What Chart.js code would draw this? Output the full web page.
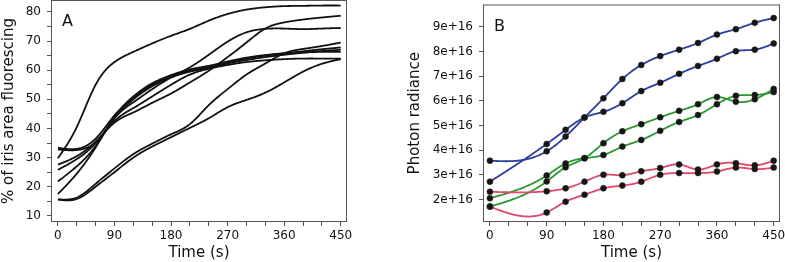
<!DOCTYPE html>
<html>
<head>
<meta charset="utf-8">
<script src="https://cdn.jsdelivr.net/npm/chart.js@4.4.1/dist/chart.umd.min.js"></script>
<style>
  html, body { margin: 0; padding: 0; background: #fff; }
  #chartA { position: absolute; left: 0; top: 0; }
  #chartB { position: absolute; left: 400px; top: 0; }
</style>
</head>
<body>
<canvas id="chartA" width="352" height="262"></canvas>
<canvas id="chartB" width="385" height="262"></canvas>
<script>
// ---- Panel A: % of iris area fluorescing, sampled every 30 s
const timesA = [0, 30, 60, 90, 120, 150, 180, 210, 240, 270, 300, 330, 360, 390, 420, 450];
const irisTop  = [29.8, 40.5, 55, 62.8, 66.3, 69.2, 71.8, 74.2, 77, 79.3, 80.8, 81.6, 82, 82.1, 82.2, 82.2];
const irisC2   = [27.6, 30.5, 35.5, 42, 45.5, 48.8, 52, 55.8, 59.8, 64.5, 69.5, 74.3, 76.4, 77.4, 78.1, 78.7];
const irisC3   = [17.5, 24.5, 33.5, 43.5, 49, 53.5, 57.5, 61, 65.3, 69.8, 73, 74.2, 74.3, 74.1, 74.3, 74.5];
const irisM1   = [33.4, 33, 36.5, 44.5, 50.5, 55, 57.8, 59.8, 61, 62.5, 64, 65, 65.8, 66.5, 67.2, 67.8];
const irisM2   = [25.8, 29.5, 35, 43.5, 50, 54.5, 57.5, 59.5, 60.8, 62.3, 63.5, 64.5, 65.3, 66, 66.6, 67];
const irisM3   = [21.8, 27, 34, 44, 51, 55.5, 58.3, 60.3, 61.5, 63, 64.3, 65.2, 65.8, 66.1, 66.3, 66.3];
const irisM4   = [32.8, 32.6, 35.3, 42.5, 47, 51, 55, 58.5, 60.5, 61.8, 62.8, 63.4, 63.8, 64, 64, 64];
const irisLowA = [15.7, 16.3, 21, 26.3, 31.2, 34.8, 38, 41.5, 48, 53.5, 58.5, 62.3, 65.8, 67.3, 68.3, 69.5];
const irisLowB = [15.6, 15.8, 20, 25, 30, 33.8, 37, 40.2, 43.5, 47.3, 49.8, 52.3, 55.8, 59.5, 62.2, 63.8];
const seriesA = [irisTop, irisC2, irisC3, irisM1, irisM2, irisM3, irisM4, irisLowA, irisLowB];
const colorsA = seriesA.map(() => '#111');

// ---- Panel B: photon radiance, measured points
const timesB = [0, 90, 120, 150, 180, 210, 240, 270, 300, 330, 360, 390, 420, 450];
const blue1  = [2.72e16, 4.25e16, 4.82e16, 5.32e16, 5.55e16, 5.9e16, 6.39e16, 6.73e16, 7.09e16, 7.41e16, 7.7e16, 8.01e16, 8.07e16, 8.32e16];
const blue2  = [3.57e16, 3.95e16, 4.55e16, 5.32e16, 6.1e16, 6.88e16, 7.45e16, 7.81e16, 8.07e16, 8.34e16, 8.68e16, 8.9e16, 9.16e16, 9.35e16];
const green1 = [2.05e16, 2.97e16, 3.46e16, 3.67e16, 3.8e16, 4.14e16, 4.41e16, 4.78e16, 5.14e16, 5.42e16, 5.86e16, 6.2e16, 6.23e16, 6.35e16];
const green2 = [1.71e16, 2.73e16, 3.3e16, 3.67e16, 4.28e16, 4.76e16, 5.05e16, 5.33e16, 5.59e16, 5.86e16, 6.15e16, 5.96e16, 6.06e16, 6.48e16];
const red1   = [2.31e16, 2.33e16, 2.45e16, 2.72e16, 3.0e16, 2.98e16, 3.14e16, 3.27e16, 3.42e16, 3.21e16, 3.42e16, 3.47e16, 3.38e16, 3.57e16];
const red2   = [1.71e16, 1.47e16, 1.91e16, 2.19e16, 2.45e16, 2.56e16, 2.72e16, 3.0e16, 3.07e16, 3.07e16, 3.13e16, 3.29e16, 3.23e16, 3.29e16];
const seriesB = [blue1, blue2, green1, green2, red1, red2];
const colorsB = ['#2a3f9e', '#2a3f9e', '#2b982f', '#2b982f', '#e2486a', '#e2486a'];

// ---- ticks
const timeTicks  = [0, 30, 60, 90, 120, 150, 180, 210, 240, 270, 300, 330, 360, 390, 420, 450];
const timeLabels = [0, 90, 180, 270, 360, 450];
const ticksAY    = [10, 15, 20, 25, 30, 35, 40, 45, 50, 55, 60, 65, 70, 75, 80];
const labelsAY   = [10, 20, 30, 40, 50, 60, 70, 80];
const ticksBY    = [2e16, 3e16, 4e16, 5e16, 6e16, 7e16, 8e16, 9e16];

const FONT = 'DejaVu Sans';
const AXIS = '#555';

// natural cubic spline through (xs, ys)
function naturalSpline(xs, ys) {
  const n = xs.length;
  const h = [], l = [1], mu = [0], z = [0];
  const b = [], c = new Array(n).fill(0), d = [];
  for (let i = 0; i < n - 1; i++) h[i] = xs[i + 1] - xs[i];
  for (let i = 1; i < n - 1; i++) {
    const alpha = 3 / h[i] * (ys[i + 1] - ys[i]) - 3 / h[i - 1] * (ys[i] - ys[i - 1]);
    l[i] = 2 * (xs[i + 1] - xs[i - 1]) - h[i - 1] * mu[i - 1];
    mu[i] = h[i] / l[i];
    z[i] = (alpha - h[i - 1] * z[i - 1]) / l[i];
  }
  for (let j = n - 2; j >= 1; j--) c[j] = z[j] - mu[j] * c[j + 1];
  for (let j = 0; j < n - 1; j++) {
    b[j] = (ys[j + 1] - ys[j]) / h[j] - h[j] * (c[j + 1] + 2 * c[j]) / 3;
    d[j] = (c[j + 1] - c[j]) / (3 * h[j]);
  }
  return x => {
    let i = 0;
    while (i < n - 2 && x > xs[i + 1]) i++;
    const dx = x - xs[i];
    return ys[i] + b[i] * dx + c[i] * dx * dx + d[i] * dx * dx * dx;
  };
}

// smooth curves through each series, placed with the chart's own scales
function splinePlugin(times, series, colors, width) {
  return {
    id: 'splines',
    beforeDatasetsDraw(chart) {
      const { ctx, chartArea: a, scales: { x, y } } = chart;
      ctx.save();
      ctx.beginPath();
      ctx.rect(a.left, a.top, a.right - a.left, a.bottom - a.top);
      ctx.clip();
      ctx.lineJoin = 'round';
      series.forEach((vals, k) => {
        const f = naturalSpline(times, vals);
        ctx.beginPath();
        for (let t = times[0]; t <= times[times.length - 1]; t += 1) {
          const px = x.getPixelForValue(t), py = y.getPixelForValue(f(t));
          if (t === times[0]) ctx.moveTo(px, py); else ctx.lineTo(px, py);
        }
        ctx.strokeStyle = colors[k];
        ctx.lineWidth = width;
        ctx.stroke();
      });
      ctx.restore();
    }
  };
}

// box around the plot area + panel letter
function framePlugin(letter) {
  return {
    id: 'frame',
    afterDraw(chart) {
      const { ctx, chartArea: a } = chart;
      ctx.save();
      ctx.strokeStyle = AXIS;
      ctx.lineWidth = 1;
      ctx.strokeRect(a.left + 0.5, a.top + 0.5, a.right - a.left - 1, a.bottom - a.top - 1);
      ctx.fillStyle = '#111';
      ctx.font = '16px "' + FONT + '"';
      ctx.textBaseline = 'middle';
      ctx.fillText(letter, a.left + 11, a.top + 22);
      ctx.restore();
    }
  };
}

// keep the plot box where the figure has it: no extra room for edge labels
function noEdgePadding(s) {
  s.paddingTop = 0; s.paddingBottom = 0; s.paddingLeft = 0; s.paddingRight = 0;
}

function timeAxis() {
  return {
    type: 'linear',
    min: -11, max: 460,
    afterFit: s => { s.height = 40; noEdgePadding(s); },
    afterBuildTicks: s => { s.ticks = timeTicks.map(v => ({ value: v })); },
    border: { display: false },
    grid: { drawOnChartArea: false, tickLength: 4, color: AXIS },
    ticks: {
      autoSkip: false, maxRotation: 0, padding: 3,
      color: '#111', font: { family: FONT, size: 12 },
      callback: v => (timeLabels.includes(v) ? String(v) : '')
    },
    title: { display: true, text: 'Time (s)', color: '#111', font: { family: FONT, size: 15 }, padding: { top: 0, bottom: 0 } }
  };
}

new Chart(document.getElementById('chartA'), {
  type: 'scatter',
  data: {
    datasets: seriesA.map(vals => ({
      data: timesA.map((t, i) => ({ x: t, y: vals[i] })),
      showLine: false, pointRadius: 0
    }))
  },
  plugins: [splinePlugin(timesA, seriesA, colorsA, 1.8), framePlugin('A')],
  options: {
    responsive: false, animation: false,
    layout: { padding: { top: 0, right: 5, bottom: 0, left: 0 } },
    plugins: { legend: { display: false }, tooltip: { enabled: false } },
    scales: {
      x: timeAxis(),
      y: {
        min: 7.9, max: 84.1,
        afterFit: s => { s.width = 51; noEdgePadding(s); },
        afterBuildTicks: s => { s.ticks = ticksAY.map(v => ({ value: v })); },
        border: { display: false },
        grid: { drawOnChartArea: false, tickLength: 4, color: AXIS },
        ticks: {
          autoSkip: false, padding: 6,
          color: '#111', font: { family: FONT, size: 12 },
          callback: v => (labelsAY.includes(v) ? String(v) : '')
        },
        title: { display: true, text: '% of iris area fluorescing', color: '#111', font: { family: FONT, size: 15 }, padding: { top: 0, bottom: 0 } }
      }
    }
  }
});

new Chart(document.getElementById('chartB'), {
  type: 'scatter',
  data: {
    datasets: seriesB.map((vals, k) => ({
      data: timesB.map((t, i) => ({ x: t, y: vals[i] })),
      showLine: false, pointRadius: 3, pointBackgroundColor: '#161616',
      pointBorderColor: '#222', pointBorderWidth: 0.5, borderColor: colorsB[k]
    }))
  },
  plugins: [splinePlugin(timesB, seriesB, colorsB, 1.8), framePlugin('B')],
  options: {
    responsive: false, animation: false,
    layout: { padding: { top: 0, right: 5, bottom: 0, left: 0 } },
    plugins: { legend: { display: false }, tooltip: { enabled: false } },
    scales: {
      x: timeAxis(),
      y: {
        min: 1.085e16, max: 9.9e16,
        afterFit: s => { s.width = 83; noEdgePadding(s); },
        afterBuildTicks: s => { s.ticks = ticksBY.map(v => ({ value: v })); },
        border: { display: false },
        grid: { drawOnChartArea: false, tickLength: 4, color: AXIS },
        ticks: {
          autoSkip: false, padding: 6,
          color: '#111', font: { family: FONT, size: 12 },
          callback: v => Math.round(v / 1e16) + 'e+16'
        },
        title: { display: true, text: 'Photon radiance', color: '#111', font: { family: FONT, size: 15 }, padding: { top: 6, bottom: 0 } }
      }
    }
  }
});
</script>
</body>
</html>
